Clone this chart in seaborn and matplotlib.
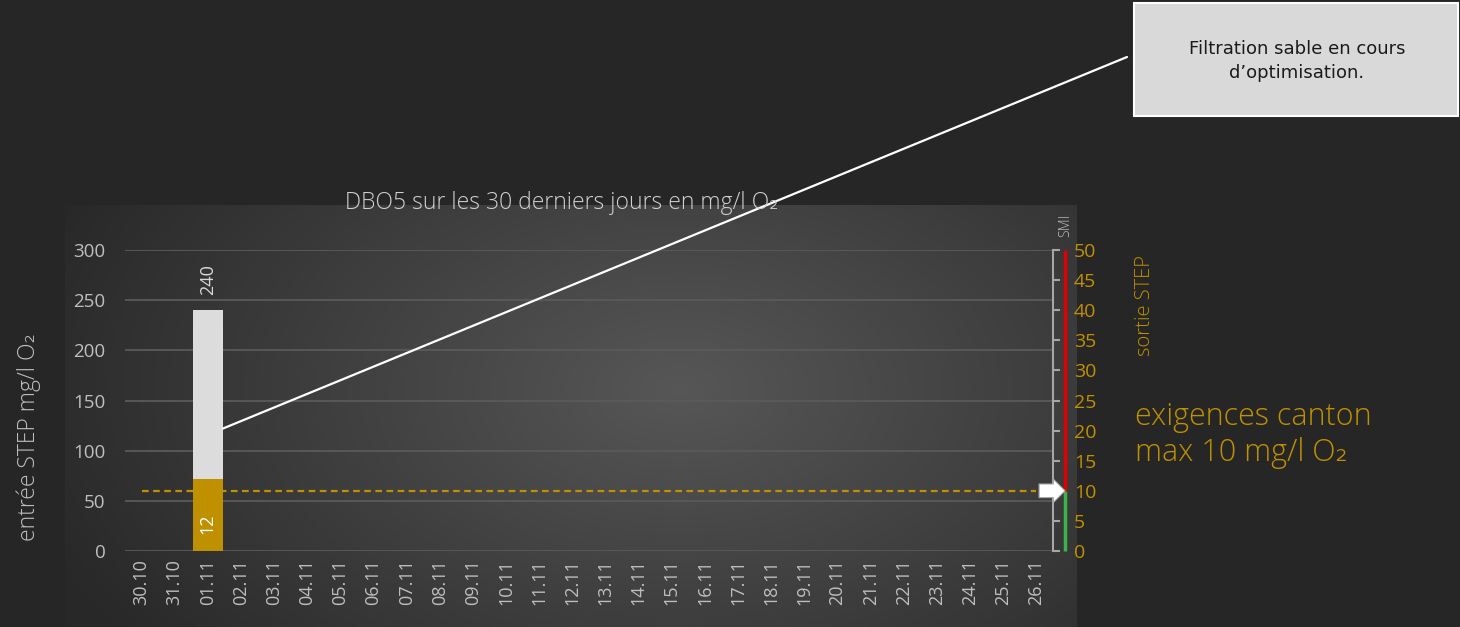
import numpy as np
import pandas as pd
import matplotlib.pyplot as plt
import matplotlib.transforms as mtransforms
from matplotlib.patches import Rectangle
import seaborn as sns

# data
dates = ['30.10', '31.10', '01.11', '02.11', '03.11', '04.11', '05.11', '06.11',
         '07.11', '08.11', '09.11', '10.11', '11.11', '12.11', '13.11', '14.11',
         '15.11', '16.11', '17.11', '18.11', '19.11', '20.11', '21.11', '22.11',
         '23.11', '24.11', '25.11', '26.11']
entree = [np.nan, np.nan, 240] + [np.nan] * 25
sortie = [np.nan, np.nan, 12] + [np.nan] * 25
limite = 10          # exigence canton, mg/l O2
sortie_max = 50
entree_max = 300

df = pd.DataFrame({'date': dates, 'entree': entree, 'sortie': sortie})

BG = '#262626'
GOLD = '#bf9000'
TXT = '#bfbfbf'

sns.set_style('dark', rc={'axes.facecolor': 'none', 'figure.facecolor': BG,
                          'axes.edgecolor': BG, 'grid.color': '#5a5a5a'})
light = ['Open Sans', 'DejaVu Sans']
plt.rcParams['font.family'] = ['Open Sans', 'DejaVu Sans']

W, H = 1460, 627
fig = plt.figure(figsize=(W / 100, H / 100), dpi=100)

# radial gradient behind the plot area
bg = fig.add_axes([65 / W, 0, (1077 - 65) / W, (H - 205) / H], zorder=-5)
gx, gy = np.meshgrid(np.linspace(65, 1077, 400), np.linspace(205, 627, 200))
r = np.sqrt(((gx - 680) / 640) ** 2 + ((gy - 390) / 400) ** 2)
shade = np.clip(0.34 - 0.17 * r, 0.16, 0.34)
bg.imshow(np.dstack([shade] * 3), aspect='auto', extent=(0, 1, 0, 1))
bg.axis('off')

ax = fig.add_axes([125 / W, (H - 551) / H, (1053 - 125) / W, 301 / H])
ax2 = ax.twinx()

sns.barplot(data=df, x='date', y='entree', order=dates, color='#dcdcdc',
            width=0.9, saturation=1, linewidth=0, ax=ax)
sns.barplot(data=df, x='date', y='sortie', order=dates, color=GOLD,
            width=0.9, saturation=1, linewidth=0, ax=ax2)

ax.set_ylim(0, entree_max)
ax2.set_ylim(0, sortie_max)
ax.set_xlim(-0.5, len(dates) - 0.5)
ax.set_yticks(np.arange(0, entree_max + 1, 50))
ax2.set_yticks(np.arange(0, sortie_max + 1, 5))
ax.grid(axis='y', color='#5a5a5a', lw=1.3)
ax.grid(axis='x', visible=False)
ax2.grid(False)
for s in ax.spines.values():
    s.set_visible(False)
for s in ax2.spines.values():
    s.set_visible(False)

ax.tick_params(axis='y', length=0, labelsize=13.5, labelcolor=TXT, pad=14)
ax.tick_params(axis='x', length=0, labelsize=13, labelcolor=TXT, rotation=90, pad=6)
ax.set_xlabel('')
ax.set_ylabel('entrée STEP mg/l O₂', color=TXT, fontsize=16.5, family=light,
              fontweight='light')
ax.yaxis.set_label_coords(-0.091, 0.38)
ax2.set_ylabel('')
ax2.tick_params(axis='y', length=5, width=1.5, color='#a6a6a6', direction='out',
                labelsize=14, labelcolor=GOLD, pad=10)

# right scale bracket and threshold colour bar
ax2.spines['right'].set_visible(True)
ax2.spines['right'].set_color('#a6a6a6')
ax2.spines['right'].set_linewidth(1.5)
tr = mtransforms.blended_transform_factory(ax2.transAxes, ax2.transData)
ax2.plot([0.9995, 1.0], [0, 0], color='#a6a6a6', lw=1.5, transform=tr, clip_on=False)
ax2.plot([0.9995, 1.0], [sortie_max, sortie_max], color='#a6a6a6', lw=1.5,
         transform=tr, clip_on=False)
ax2.plot([1.013, 1.013], [0, limite], color='#3cb44b', lw=2.5, transform=tr,
         clip_on=False, solid_capstyle='butt')
ax2.plot([1.013, 1.013], [limite, sortie_max], color='#e00000', lw=2.5,
         transform=tr, clip_on=False, solid_capstyle='butt')

# limit line + arrow
ax2.hlines(limite, 0, len(dates) - 1, colors=GOLD, linestyles=(0, (3, 2)), lw=1.6)
ax2.annotate('', xy=(1.013, limite), xytext=(0.985, limite), xycoords=tr,
             textcoords=tr,
             arrowprops=dict(arrowstyle='simple,head_length=0.6,head_width=1.2,tail_width=0.7',
                             mutation_scale=14, fc='white', ec='#a6a6a6', lw=0.8,
                             shrinkA=0, shrinkB=0))

# bar labels
for i, v in enumerate(entree):
    if not np.isnan(v):
        ax.annotate(f'{v:.0f}', (i, v), xytext=(0, 11), textcoords='offset points',
                    rotation=90, ha='center', va='bottom', color='#d9d9d9', fontsize=13)
for i, v in enumerate(sortie):
    if not np.isnan(v):
        ax2.annotate(f'{v:.0f}', (i, 0), xytext=(0, 12), textcoords='offset points',
                     rotation=90, ha='center', va='bottom', color='white', fontsize=13)

# texts
fig.text(562 / W, 1 - 203 / H, 'DBO5 sur les 30 derniers jours en mg/l O₂',
         ha='center', va='center', color='#d0d0d0', fontsize=16.5, family=light,
         fontweight='light')
fig.text(1066 / W, 1 - 225 / H, 'SMI', rotation=90, ha='center', va='center',
         color=TXT, fontsize=10, family=light, fontweight='light')
fig.text(1145 / W, 1 - 305 / H, 'sortie STEP', rotation=90, ha='center', va='center',
         color=GOLD, fontsize=14.5, family=light, fontweight='light')
fig.text(1135 / W, 1 - 435 / H, 'exigences canton\nmax 10 mg/l O₂', ha='left',
         va='center', color=GOLD, fontsize=22, family=light, fontweight='light',
         linespacing=1.2)

# callout box
fig.patches.append(Rectangle((1134 / W, 1 - 116 / H), (1458 - 1134) / W, 113 / H,
                             transform=fig.transFigure, fc='#d9d9d9', ec='white',
                             lw=1.5, zorder=5))
fig.text(1297 / W, 1 - 61 / H, 'Filtration sable en cours\nd\u2019optimisation.',
         ha='center', va='center', color='#1a1a1a', fontsize=13,
         family=['DejaVu Sans'], zorder=6, linespacing=1.45)
ax.annotate('', xy=(2.45, 122), xycoords='data', xytext=(1127 / W, 1 - 57 / H),
            textcoords='figure fraction',
            arrowprops=dict(arrowstyle='-', color='white', lw=1.6, shrinkA=0, shrinkB=0),
            annotation_clip=False, zorder=10)

fig.savefig('out.png', dpi=100, facecolor=BG)
